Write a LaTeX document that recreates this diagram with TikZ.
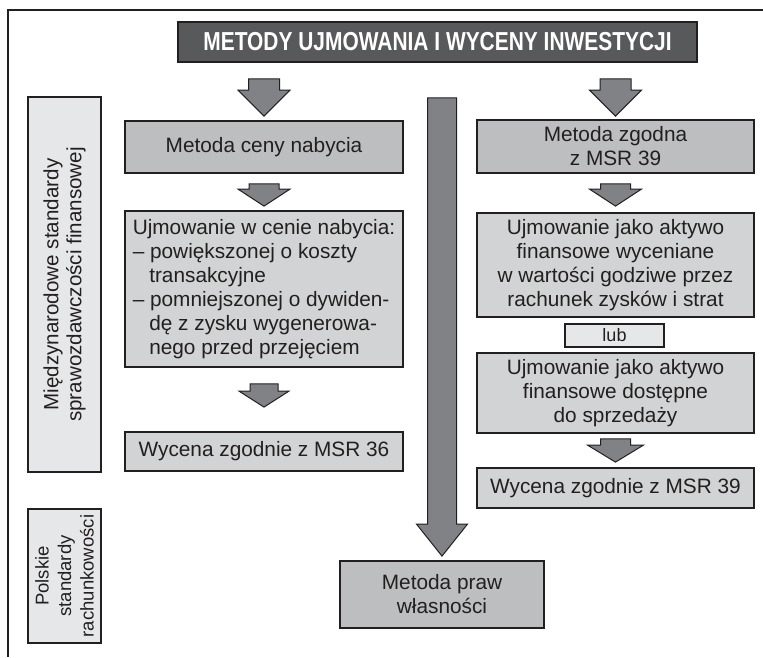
\documentclass[tikz,border=0pt]{standalone}
\usepackage{fontspec}
\setmainfont{Liberation Sans}
\usetikzlibrary{calc}
\definecolor{ink}{HTML}{231F20}
\definecolor{titlegray}{HTML}{58595B}
\definecolor{midgray}{HTML}{BCBEC0}
\definecolor{lightbox}{HTML}{D1D3D4}
\definecolor{palegray}{HTML}{E6E7E8}
\definecolor{arrowgray}{HTML}{808285}
% block arrow: #1 from node, #2 to node, #3 gap below #1, #4 gap above #2,
% #5 head length, #6 shaft half width, #7 head half width (all in pt)
\newcommand\blockarrow[7]{%
  \path[barrow] let \p1=(#1.south), \p2=(#2.north) in
    (\x2-#6pt,\y1-#3pt) -- (\x2+#6pt,\y1-#3pt) -- (\x2+#6pt,\y2+#4pt+#5pt)
    -- (\x2+#7pt,\y2+#4pt+#5pt) -- (\x2,\y2+#4pt) -- (\x2-#7pt,\y2+#4pt+#5pt)
    -- (\x2-#6pt,\y2+#4pt+#5pt) -- cycle;}
\begin{document}
\begin{tikzpicture}[x=1pt,y=-1pt,
  box/.style={draw=ink,line width=1.8pt,inner sep=0pt,text=ink,align=center,
    font=\fontsize{20.8}{24}\selectfont},
  barrow/.style={fill=arrowgray,draw=ink,line width=1pt,line join=miter}]
\useasboundingbox (0,0) rectangle (763,657);
% frame
\coordinate (fbl) at (8,657);
\coordinate (ftl) at (8,10);
\coordinate (ftr) at (763,10);
\draw[ink,line width=1.3pt] (fbl) -- (ftl) -- (ftr);
% title
\node[box,fill=titlegray,text=white,minimum width=519pt,minimum height=40pt,
  font=\fontsize{26}{30}\selectfont\bfseries] (title) at (437.5,42)
  {\scalebox{0.805}[1]{METODY UJMOWANIA I WYCENY INWESTYCJI}};
% side labels
\node[box,fill=palegray,rotate=90,minimum width=375pt,minimum height=73pt,
  font=\fontsize{20.6}{23}\selectfont] (msr) at (64.5,284.5)
  {Międzynarodowe standardy\\sprawozdawczości finansowej};
\node[box,fill=palegray,rotate=90,minimum width=134pt,minimum height=73pt,
  font=\fontsize{18.5}{22.5}\selectfont] (psr) at (64.5,576)
  {Polskie\\standardy\\rachunkowości};
% left column
\node[box,fill=midgray,minimum width=278pt,minimum height=52pt] (cena) at (264,147)
  {Metoda ceny nabycia};
\node[box,fill=lightbox,minimum width=278pt,minimum height=156pt,align=left]
  (ujm) at (264,289)
  {Ujmowanie w cenie nabycia:\\
   – powiększonej o koszty\\
   \hspace*{16.5pt}transakcyjne\\
   – pomniejszonej o dywiden-\\
   \hspace*{16.5pt}dę z zysku wygenerowa-\\
   \hspace*{16.5pt}nego przed przejęciem};
\node[box,fill=lightbox,minimum width=278pt,minimum height=39pt] (wyc36) at (264,451.5)
  {Wycena zgodnie z MSR 36};
% right column
\node[box,fill=midgray,minimum width=277pt,minimum height=53pt] (zgodna) at (615.5,146.5)
  {Metoda zgodna\\z MSR 39};
\node[box,fill=lightbox,minimum width=277pt,minimum height=104pt] (akt1) at (615.5,265)
  {Ujmowanie jako aktywo\\finansowe wyceniane\\w wartości godziwe przez\\rachunek zysków i strat};
\node[box,fill=palegray,minimum width=99pt,minimum height=23pt,
  font=\fontsize{18}{20}\selectfont] (lub) at (614.5,335.5) {lub};
\node[box,fill=lightbox,minimum width=277pt,minimum height=80pt] (akt2) at (615.5,393)
  {Ujmowanie jako aktywo\\finansowe dostępne\\do sprzedaży};
\node[box,fill=lightbox,minimum width=277pt,minimum height=40pt] (wyc39) at (615.5,488)
  {Wycena zgodnie z MSR 39};
% middle
\node[box,fill=midgray,minimum width=204pt,minimum height=67pt] (praw) at (442,594.5)
  {Metoda praw\\własności};
% block arrows
\blockarrow{title}{cena}{16}{4}{26}{15.5}{26}
\blockarrow{title}{zgodna}{16}{3}{26}{15.5}{26}
\blockarrow{title}{praw}{35}{4}{32}{14.5}{25.5}
\blockarrow{cena}{ujm}{10}{4}{17}{15}{26}
\blockarrow{zgodna}{akt1}{10}{6}{17}{15}{26}
\blockarrow{ujm}{wyc36}{16}{24}{16}{14}{25}
\blockarrow{akt2}{wyc39}{5}{5}{17}{15}{28}
\end{tikzpicture}
\end{document}
